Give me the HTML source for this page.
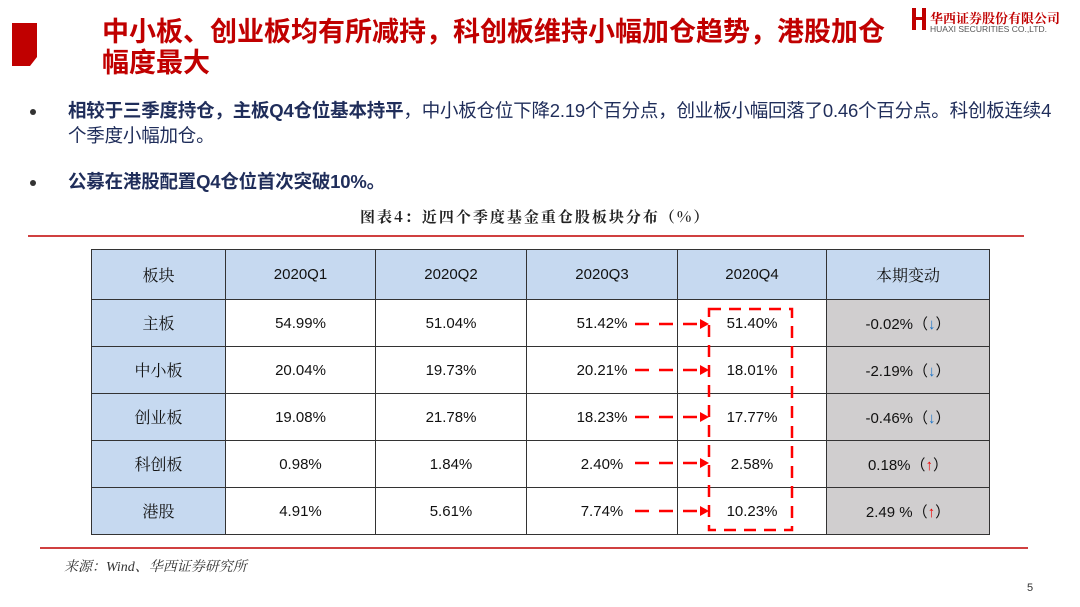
<!DOCTYPE html>
<html><head><meta charset="utf-8"><style>
body{margin:0;width:1080px;height:607px;background:#fff;position:relative;overflow:hidden;font-family:"Liberation Sans","Noto Sans CJK SC",sans-serif}
.a{position:absolute;white-space:nowrap}
table{position:absolute;left:91px;top:249px;border-collapse:collapse;font-size:15px;color:#111}
td{border:1px solid #333;text-align:center;height:46px;padding:0;vertical-align:middle}
.h td{background:#c6d9f0;height:49px}
td.f{background:#c6d9f0;font-family:"Noto Serif CJK SC",serif;font-size:16px;line-height:16px}
td.g{background:#d0cecf}
.dn{color:#1a73c8;font-weight:bold}.up{color:#e00;font-weight:bold}
</style></head><body>
<svg class="a" style="left:0;top:0" width="1080" height="607">
<polygon points="12,23 37,23 37,57 30,66 12,66" fill="#c00000"/>
<line x1="28" y1="236" x2="1024" y2="236" stroke="#c00000" stroke-width="1.5"/>
<line x1="40" y1="548" x2="1028" y2="548" stroke="#c00000" stroke-width="1.5"/>
<rect x="912" y="8" width="4" height="22" fill="#c00000"/><rect x="922" y="8" width="4" height="22" fill="#c00000"/><rect x="912" y="17" width="14" height="3" fill="#c00000"/>
<circle cx="33" cy="112" r="3" fill="#333"/><circle cx="33" cy="183" r="3" fill="#333"/>
</svg>
<div class="a" style="left:102px;top:17px;font-size:27px;font-weight:bold;color:#c00000;line-height:31px">中小板、创业板均有所减持，科创板维持小幅加仓趋势，港股加仓<br>幅度最大</div>
<div class="a" style="left:930px;top:8px;font-size:13px;font-family:'Noto Serif CJK SC',serif;color:#c00000;font-weight:bold">华西证券股份有限公司</div>
<div class="a" style="left:930px;top:24px;font-size:8.5px;color:#555">HUAXI SECURITIES CO.,LTD.</div>
<div class="a" style="left:68px;top:98px;font-size:18.5px;color:#1f2d5a;line-height:25px;letter-spacing:-0.2px"><b>相较于三季度持仓，主板Q4仓位基本持平</b>，中小板仓位下降2.19个百分点，创业板小幅回落了0.46个百分点。科创板连续4<br>个季度小幅加仓。</div>
<div class="a" style="left:68px;top:168px;font-size:18.5px;color:#1f2d5a;font-weight:bold;letter-spacing:-0.2px">公募在港股配置Q4仓位首次突破10%。</div>
<div class="a" style="left:360px;top:206px;font-size:15px;font-family:'Noto Serif CJK SC',serif;color:#222;font-weight:bold;letter-spacing:2px">图表4：近四个季度基金重仓股板块分布（%）</div>
<table>
<tr class="h"><td class="f" style="width:133px">板块</td><td style="width:149px">2020Q1</td><td style="width:150px">2020Q2</td><td style="width:150px">2020Q3</td><td style="width:148px">2020Q4</td><td style="width:162px;font-family:'Noto Serif CJK SC',serif;font-size:16px">本期变动</td></tr>
<tr><td class="f">主板</td><td>54.99%</td><td>51.04%</td><td>51.42%</td><td>51.40%</td><td class="g">-0.02%（<span class="dn">↓</span>）</td></tr>
<tr><td class="f">中小板</td><td>20.04%</td><td>19.73%</td><td>20.21%</td><td>18.01%</td><td class="g">-2.19%（<span class="dn">↓</span>）</td></tr>
<tr><td class="f">创业板</td><td>19.08%</td><td>21.78%</td><td>18.23%</td><td>17.77%</td><td class="g">-0.46%（<span class="dn">↓</span>）</td></tr>
<tr><td class="f">科创板</td><td>0.98%</td><td>1.84%</td><td>2.40%</td><td>2.58%</td><td class="g">0.18%（<span class="up">↑</span>）</td></tr>
<tr><td class="f">港股</td><td>4.91%</td><td>5.61%</td><td>7.74%</td><td>10.23%</td><td class="g">2.49 %（<span class="up">↑</span>）</td></tr>
</table>
<svg class="a" style="left:0;top:0" width="1080" height="607">
<rect x="709" y="309" width="83" height="221" fill="none" stroke="#f00" stroke-width="2.5" stroke-dasharray="12,8"/>
<g stroke="#f00" stroke-width="2.5" stroke-dasharray="14,10">
<line x1="635" y1="324" x2="700" y2="324"/><line x1="635" y1="370" x2="700" y2="370"/><line x1="635" y1="417" x2="700" y2="417"/><line x1="635" y1="463" x2="700" y2="463"/><line x1="635" y1="511" x2="700" y2="511"/></g>
<g fill="#f00"><polygon points="700,319 709,324 700,329"/><polygon points="700,365 709,370 700,375"/><polygon points="700,412 709,417 700,422"/><polygon points="700,458 709,463 700,468"/><polygon points="700,506 709,511 700,516"/></g>
</svg>
<div class="a" style="left:64px;top:556px;font-size:14px;font-style:italic;color:#333;font-family:'Liberation Serif','Noto Serif CJK SC',serif">来源：Wind、华西证券研究所</div>
<div class="a" style="left:1027px;top:582px;font-size:11px;color:#333">5</div>
</body></html>
